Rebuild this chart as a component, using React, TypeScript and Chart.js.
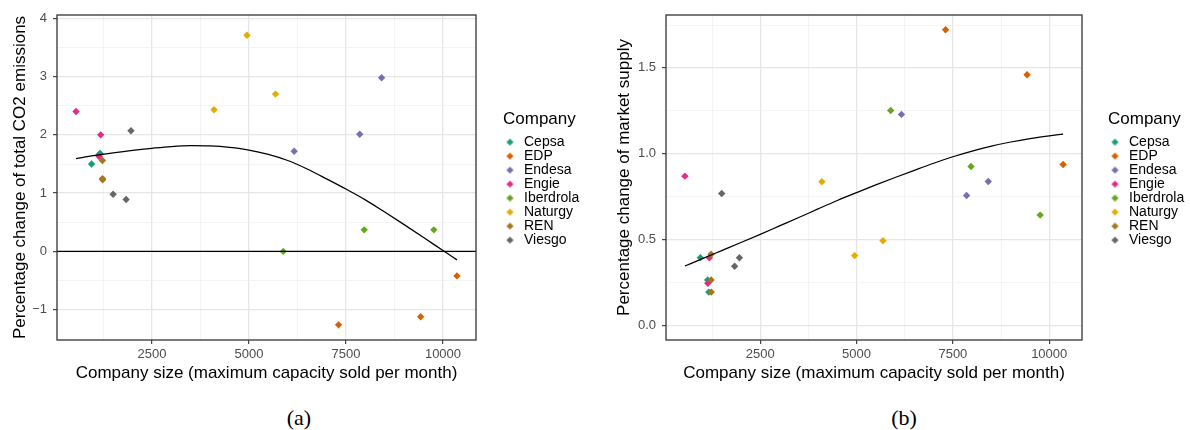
import { useEffect, useRef } from 'react';
import { Chart, registerables } from 'chart.js';

Chart.register(...registerables);

const FONT = "'Liberation Sans', Arial, Helvetica, sans-serif";
const SERIF = "'Liberation Serif', 'DejaVu Serif', serif";
Chart.defaults.font.family = FONT;

const COMPANIES = ['Cepsa', 'EDP', 'Endesa', 'Engie', 'Iberdrola', 'Naturgy', 'REN', 'Viesgo'];
const COLORS = ['#1B9E77', '#D95F02', '#7570B3', '#E7298A', '#66A61E', '#E6AB02', '#A6761D', '#666666'];

// Company size (maximum capacity sold per month), three observations per company
const CEPSA_SIZE = [945, 1135, 1165];
const EDP_SIZE = [7310, 9425, 10360];
const ENDESA_SIZE = [6165, 7855, 8418];
const ENGIE_SIZE = [545, 1180, 1140];
const IBERDROLA_SIZE = [5885, 7970, 9765];
const NATURGY_SIZE = [4100, 4950, 5685];
const REN_SIZE = [1225, 1225, 1230];
const VIESGO_SIZE = [1500, 1835, 1960];

// Percentage change of total CO2 emissions
const CEPSA_CO2 = [1.5, 1.66, 1.68];
const EDP_CO2 = [-1.26, -1.12, -0.42];
const ENDESA_CO2 = [1.72, 2.01, 2.98];
const ENGIE_CO2 = [2.4, 2.0, 1.63];
const IBERDROLA_CO2 = [0.0, 0.37, 0.37];
const NATURGY_CO2 = [2.43, 3.71, 2.7];
const REN_CO2 = [1.56, 1.25, 1.23];
const VIESGO_CO2 = [0.98, 0.89, 2.07];

// Percentage change of market supply
const CEPSA_SUPPLY = [0.394, 0.264, 0.193];
const EDP_SUPPLY = [1.722, 1.46, 0.937];
const ENDESA_SUPPLY = [1.229, 0.756, 0.838];
const ENGIE_SUPPLY = [0.869, 0.393, 0.245];
const IBERDROLA_SUPPLY = [1.252, 0.925, 0.642];
const NATURGY_SUPPLY = [0.836, 0.406, 0.492];
const REN_SUPPLY = [0.414, 0.264, 0.193];
const VIESGO_SUPPLY = [0.768, 0.344, 0.393];

const SIZES = [CEPSA_SIZE, EDP_SIZE, ENDESA_SIZE, ENGIE_SIZE, IBERDROLA_SIZE, NATURGY_SIZE, REN_SIZE, VIESGO_SIZE];
const CO2 = [CEPSA_CO2, EDP_CO2, ENDESA_CO2, ENGIE_CO2, IBERDROLA_CO2, NATURGY_CO2, REN_CO2, VIESGO_CO2];
const SUPPLY = [CEPSA_SUPPLY, EDP_SUPPLY, ENDESA_SUPPLY, ENGIE_SUPPLY, IBERDROLA_SUPPLY, NATURGY_SUPPLY, REN_SUPPLY, VIESGO_SUPPLY];

// Smoothed trend of each response against company size
const FIT_SIZE = [545, 1000, 1500, 2000, 2500, 3000, 3500, 4000, 4500, 5000, 5500, 6000, 6500, 7000, 7500, 8000, 8500, 9000, 9500, 10000, 10360];
const CO2_FIT = [1.594, 1.645, 1.693, 1.735, 1.77, 1.8, 1.815, 1.81, 1.785, 1.74, 1.665, 1.56, 1.415, 1.245, 1.07, 0.885, 0.675, 0.46, 0.24, 0.015, -0.145];
const SUPPLY_FIT = [0.345, 0.388, 0.435, 0.482, 0.53, 0.579, 0.628, 0.678, 0.727, 0.773, 0.818, 0.861, 0.903, 0.944, 0.982, 1.015, 1.044, 1.068, 1.088, 1.104, 1.114];

// Axis limits and breaks
const X_MIN = 54;
const X_MAX = 10851;
const X_MAJOR = [2500, 5000, 7500, 10000];
const X_MINOR = [1250, 3750, 6250, 8750];

const CO2_MIN = -1.52;
const CO2_MAX = 4.057;
const CO2_MAJOR = [-1, 0, 1, 2, 3, 4];
const CO2_MINOR = [-0.5, 0.5, 1.5, 2.5, 3.5];

const SUPPLY_MIN = -0.0861;
const SUPPLY_MAX = 1.8083;
const SUPPLY_MAJOR = [0, 0.5, 1, 1.5];
const SUPPLY_MINOR = [0.25, 0.75, 1.25, 1.75];

const CANVAS_W = 595;
const CANVAS_H = 390;

const fmtCO2 = (v: number) => (v < 0 ? '\u2212' + Math.abs(v) : String(v));
const fmtSupply = (v: number) => v.toFixed(1);

function diamondKey(color: string) {
  const c = document.createElement('canvas');
  c.width = 9;
  c.height = 9;
  const g = c.getContext('2d')!;
  g.fillStyle = color;
  g.beginPath();
  g.moveTo(4.5, 0.9);
  g.lineTo(8.1, 4.5);
  g.lineTo(4.5, 8.1);
  g.lineTo(0.9, 4.5);
  g.closePath();
  g.fill();
  return c;
}

// Dark grey border around the plotting panel
const panelFrame = {
  id: 'panelFrame',
  afterDatasetsDraw(chart: any) {
    const { ctx, chartArea: a } = chart;
    ctx.save();
    ctx.strokeStyle = '#333333';
    ctx.lineWidth = 1.3;
    ctx.strokeRect(a.left, a.top, a.right - a.left, a.bottom - a.top);
    ctx.restore();
  },
};

// Moves the legend box away from the panel edge
const legendSpot = {
  id: 'legendSpot',
  afterLayout(chart: any, _args: any, opts: any) {
    const lg = chart.legend;
    if (!lg) return;
    const w = lg.width;
    lg.left = opts.left;
    lg.right = opts.left + w;
    lg.top += opts.dy;
    lg.bottom += opts.dy;
  },
};

type PanelSpec = {
  values: number[][];
  fit: number[];
  yMin: number;
  yMax: number;
  yMajor: number[];
  yMinor: number[];
  fmt: (v: number) => string;
  yTitle: string;
  yAxisWidth: number;
  yTitlePad: number;
  padRight: number;
  legendLeft: number;
  zeroLine: boolean;
};

function buildConfig(spec: PanelSpec): any {
  const keys = COLORS.map(diamondKey);
  const isMajorX = (v: number) => X_MAJOR.includes(v);
  const isMajorY = (v: number) => spec.yMajor.includes(v);

  const points = COMPANIES.map((name, i) => ({
    type: 'scatter',
    label: name,
    data: SIZES[i].map((x, j) => ({ x, y: spec.values[i][j] })),
    pointStyle: 'rectRot',
    pointRadius: 3.7,
    pointHoverRadius: 3.7,
    backgroundColor: COLORS[i],
    borderColor: COLORS[i],
    borderWidth: 0,
    order: 20 - i,
  }));

  const trend = {
    type: 'scatter',
    label: 'trend',
    data: FIT_SIZE.map((x, k) => ({ x, y: spec.fit[k] })),
    showLine: true,
    pointRadius: 0,
    borderColor: '#000000',
    borderWidth: 1.25,
    cubicInterpolationMode: 'monotone',
    order: 1,
  };

  const datasets: any[] = [...points, trend];
  if (spec.zeroLine) {
    datasets.push({
      type: 'scatter',
      label: 'zero',
      data: [
        { x: X_MIN, y: 0 },
        { x: X_MAX, y: 0 },
      ],
      showLine: true,
      pointRadius: 0,
      borderColor: '#000000',
      borderWidth: 1.25,
      order: 2,
    });
  }

  const gridColor = (major: boolean) => (major ? '#e6e6e6' : '#efefef');
  const gridWidth = (major: boolean) => (major ? 1.3 : 0.7);

  return {
    type: 'scatter',
    data: { datasets },
    plugins: [panelFrame, legendSpot],
    options: {
      responsive: false,
      animation: false,
      devicePixelRatio: 1,
      events: [],
      layout: { padding: { top: 15, left: 0, bottom: 0, right: spec.padRight } },
      scales: {
        x: {
          type: 'linear',
          min: X_MIN,
          max: X_MAX,
          afterBuildTicks: (axis: any) => {
            axis.ticks = [...X_MINOR, ...X_MAJOR].sort((a, b) => a - b).map((value) => ({ value }));
          },
          afterFit: (axis: any) => {
            axis.height = CANVAS_H - 340;
          },
          ticks: {
            autoSkip: false,
            maxRotation: 0,
            padding: 3,
            color: '#4d4d4d',
            font: { size: 13, family: FONT },
            callback: (v: number) => (isMajorX(v) ? String(v) : ''),
          },
          grid: {
            color: (c: any) => gridColor(isMajorX(c.tick?.value)),
            lineWidth: (c: any) => gridWidth(isMajorX(c.tick?.value)),
            tickColor: (c: any) => (isMajorX(c.tick?.value) ? '#333333' : 'rgba(0,0,0,0)'),
            tickLength: 4,
            tickWidth: 1.1,
          },
          border: { display: false },
          title: {
            display: true,
            text: 'Company size (maximum capacity sold per month)',
            color: '#000000',
            font: { size: 17, family: FONT },
            padding: { top: 0, bottom: 6.8 },
          },
        },
        y: {
          type: 'linear',
          min: spec.yMin,
          max: spec.yMax,
          afterBuildTicks: (axis: any) => {
            axis.ticks = [...spec.yMinor, ...spec.yMajor].sort((a, b) => a - b).map((value) => ({ value }));
          },
          afterFit: (axis: any) => {
            axis.width = spec.yAxisWidth;
          },
          ticks: {
            autoSkip: false,
            padding: 6,
            color: '#4d4d4d',
            font: { size: 13, family: FONT },
            callback: (v: number) => (isMajorY(v) ? spec.fmt(v) : ''),
          },
          grid: {
            color: (c: any) => gridColor(isMajorY(c.tick?.value)),
            lineWidth: (c: any) => gridWidth(isMajorY(c.tick?.value)),
            tickColor: (c: any) => (isMajorY(c.tick?.value) ? '#333333' : 'rgba(0,0,0,0)'),
            tickLength: 4,
            tickWidth: 1.1,
          },
          border: { display: false },
          title: {
            display: true,
            text: spec.yTitle,
            color: '#000000',
            font: { size: 17, family: FONT },
            padding: { top: spec.yTitlePad, bottom: 0 },
          },
        },
      },
      plugins: {
        tooltip: { enabled: false },
        legendSpot: { left: spec.legendLeft, dy: 1.5 },
        legend: {
          display: true,
          position: 'right',
          align: 'center',
          fullSize: false,
          maxWidth: 80,
          title: {
            display: true,
            text: 'Company',
            position: 'start',
            color: '#000000',
            font: { size: 17, family: FONT },
            padding: { top: 0, bottom: 3.8 },
          },
          labels: {
            usePointStyle: true,
            pointStyleWidth: 14,
            boxHeight: 8,
            padding: 0,
            color: '#000000',
            font: { size: 14, family: FONT },
            generateLabels: () =>
              COMPANIES.map((name, i) => ({
                text: name,
                pointStyle: keys[i],
                fillStyle: COLORS[i],
                strokeStyle: COLORS[i],
                lineWidth: 0,
                fontColor: '#000000',
                hidden: false,
                datasetIndex: i,
              })),
          },
        },
      },
    },
  };
}

const CO2_PANEL: PanelSpec = {
  values: CO2,
  fit: CO2_FIT,
  yMin: CO2_MIN,
  yMax: CO2_MAX,
  yMajor: CO2_MAJOR,
  yMinor: CO2_MINOR,
  fmt: fmtCO2,
  yTitle: 'Percentage change of total CO2 emissions',
  yAxisWidth: 57,
  yTitlePad: 10,
  padRight: 39,
  legendLeft: 503,
  zeroLine: true,
};

const SUPPLY_PANEL: PanelSpec = {
  values: SUPPLY,
  fit: SUPPLY_FIT,
  yMin: SUPPLY_MIN,
  yMax: SUPPLY_MAX,
  yMajor: SUPPLY_MAJOR,
  yMinor: SUPPLY_MINOR,
  fmt: fmtSupply,
  yTitle: 'Percentage change of market supply',
  yAxisWidth: 71,
  yTitlePad: 18.8,
  padRight: 28,
  legendLeft: 513,
  zeroLine: false,
};

function ScatterPanel({ spec, left }: { spec: PanelSpec; left: number }) {
  const ref = useRef<HTMLCanvasElement | null>(null);
  useEffect(() => {
    if (!ref.current) return;
    const chart = new Chart(ref.current, buildConfig(spec));
    return () => chart.destroy();
  }, [spec]);
  return (
    <canvas
      ref={ref}
      width={CANVAS_W}
      height={CANVAS_H}
      style={{ position: 'absolute', left, top: 0, width: CANVAS_W, height: CANVAS_H }}
    />
  );
}

const captionStyle = (center: number): any => ({
  position: 'absolute',
  left: center - 50,
  top: 407,
  width: 100,
  textAlign: 'center',
  fontFamily: SERIF,
  fontSize: 22,
  lineHeight: '22px',
  color: '#000',
});

export default function App() {
  return (
    <div style={{ position: 'absolute', left: 0, top: 0, width: 1190, height: 430, background: '#fff' }}>
      <ScatterPanel spec={CO2_PANEL} left={0} />
      <ScatterPanel spec={SUPPLY_PANEL} left={CANVAS_W} />
      <div style={captionStyle(299)}>(a)</div>
      <div style={captionStyle(904)}>(b)</div>
    </div>
  );
}
